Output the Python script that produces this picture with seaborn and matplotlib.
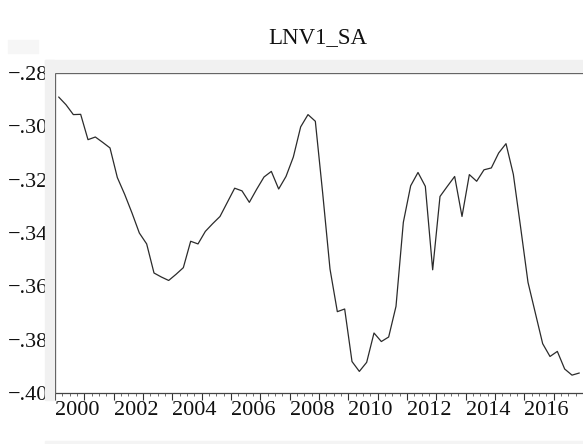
import numpy as np
import pandas as pd
import matplotlib
matplotlib.use("Agg")
import matplotlib.pyplot as plt
import matplotlib.ticker as mticker
import matplotlib.transforms as mtrans
from matplotlib.patches import Rectangle
import seaborn as sns

# quarterly series, 2000Q1 - 2017Q4
start_year = 2000
lnv1_sa = [-0.2890, -0.2919, -0.2956, -0.2955, -0.3050, -0.3040, -0.3060, -0.3081,
           -0.3192, -0.3255, -0.3325, -0.3400, -0.3441, -0.3550, -0.3565, -0.3578,
           -0.3555, -0.3530, -0.3431, -0.3441, -0.3394, -0.3365, -0.3338, -0.3285,
           -0.3232, -0.3242, -0.3285, -0.3236, -0.3190, -0.3169, -0.3235, -0.3188,
           -0.3115, -0.3002, -0.2956, -0.2981, -0.3250, -0.3535, -0.3695, -0.3685,
           -0.3882, -0.3919, -0.3885, -0.3775, -0.3807, -0.3790, -0.3675, -0.3360,
           -0.3223, -0.3173, -0.3225, -0.3538, -0.3263, -0.3225, -0.3188, -0.3338,
           -0.3181, -0.3206, -0.3163, -0.3156, -0.3100, -0.3065, -0.3180, -0.3380,
           -0.3585, -0.3700, -0.3815, -0.3863, -0.3844, -0.3910, -0.3933, -0.3925]
y_ticks = [-0.40, -0.38, -0.36, -0.34, -0.32, -0.30, -0.28]
x_label_years = [2000, 2002, 2004, 2006, 2008, 2010, 2012, 2014, 2016]

df = pd.DataFrame({"value": lnv1_sa})
df["t"] = start_year + (np.arange(len(df)) + 0.5) / 4

sns.set_style("white")
plt.rcParams["font.family"] = ["Liberation Serif", "DejaVu Serif"]

W, H = 583, 444
fig = plt.figure(figsize=(W / 100, H / 100), dpi=100)

# faint grey frame bits from the screenshot
def px_rect(x0, y0, x1, y1, c="#f1f1f1"):
    fig.patches.append(Rectangle((x0 / W, 1 - y1 / H), (x1 - x0) / W, (y1 - y0) / H,
                                 transform=fig.transFigure, color=c, zorder=0))

px_rect(8, 40, 38, 53, c="#f6f6f6")
px_rect(45, 60, W, 72)
px_rect(45, 60, 54, 400)
px_rect(45, 441, W, 444, c="#f4f4f4")

ax = fig.add_axes([55 / W, (H - 393) / H, (W - 55) / W, 320 / H])
ax.set_facecolor("none")

sns.lineplot(data=df, x="t", y="value", ax=ax, color="#2b2b2b", linewidth=0.9)

ax.set_xlim(2000, 2018)
ax.set_ylim(-0.40, -0.28)
ax.set_yticks(y_ticks)
ax.yaxis.set_major_formatter(
    mticker.FuncFormatter(lambda v, p: f"{v:.2f}".replace("0.", ".").replace("-", "\u2212")))

ax.set_xticks(list(range(2000, 2018)))
ax.set_xticklabels([str(y) if y in x_label_years else "" for y in range(2000, 2018)],
                   ha="left")
ax.xaxis.set_minor_locator(mticker.MultipleLocator(0.25))
shift = mtrans.ScaledTranslation(-3 / 100, 0, fig.dpi_scale_trans)
for lab in ax.get_xticklabels():
    lab.set_transform(lab.get_transform() + shift)

ax.tick_params(axis="y", which="major", direction="out", length=4, width=0.8,
               colors="#333333", labelsize=16, pad=1, left=True)
ax.tick_params(axis="x", which="major", direction="out", length=5, width=0.8,
               colors="#333333", labelsize=16, pad=1, bottom=True)
ax.tick_params(axis="x", which="minor", direction="out", length=2.5, width=0.6,
               colors="#555555", bottom=True)
for lab in ax.get_xticklabels() + ax.get_yticklabels():
    lab.set_color("#111111")

ax.spines["right"].set_visible(False)
for s in ["left", "top", "bottom"]:
    ax.spines[s].set_color("#444444")
    ax.spines[s].set_linewidth(0.9)

ax.set_xlabel("")
ax.set_ylabel("")
fig.text(318 / W, 1 - 38 / H, "LNV1_SA", ha="center", va="center", fontsize=16.5,
         color="#111111")

fig.savefig("out.png", dpi=100)
